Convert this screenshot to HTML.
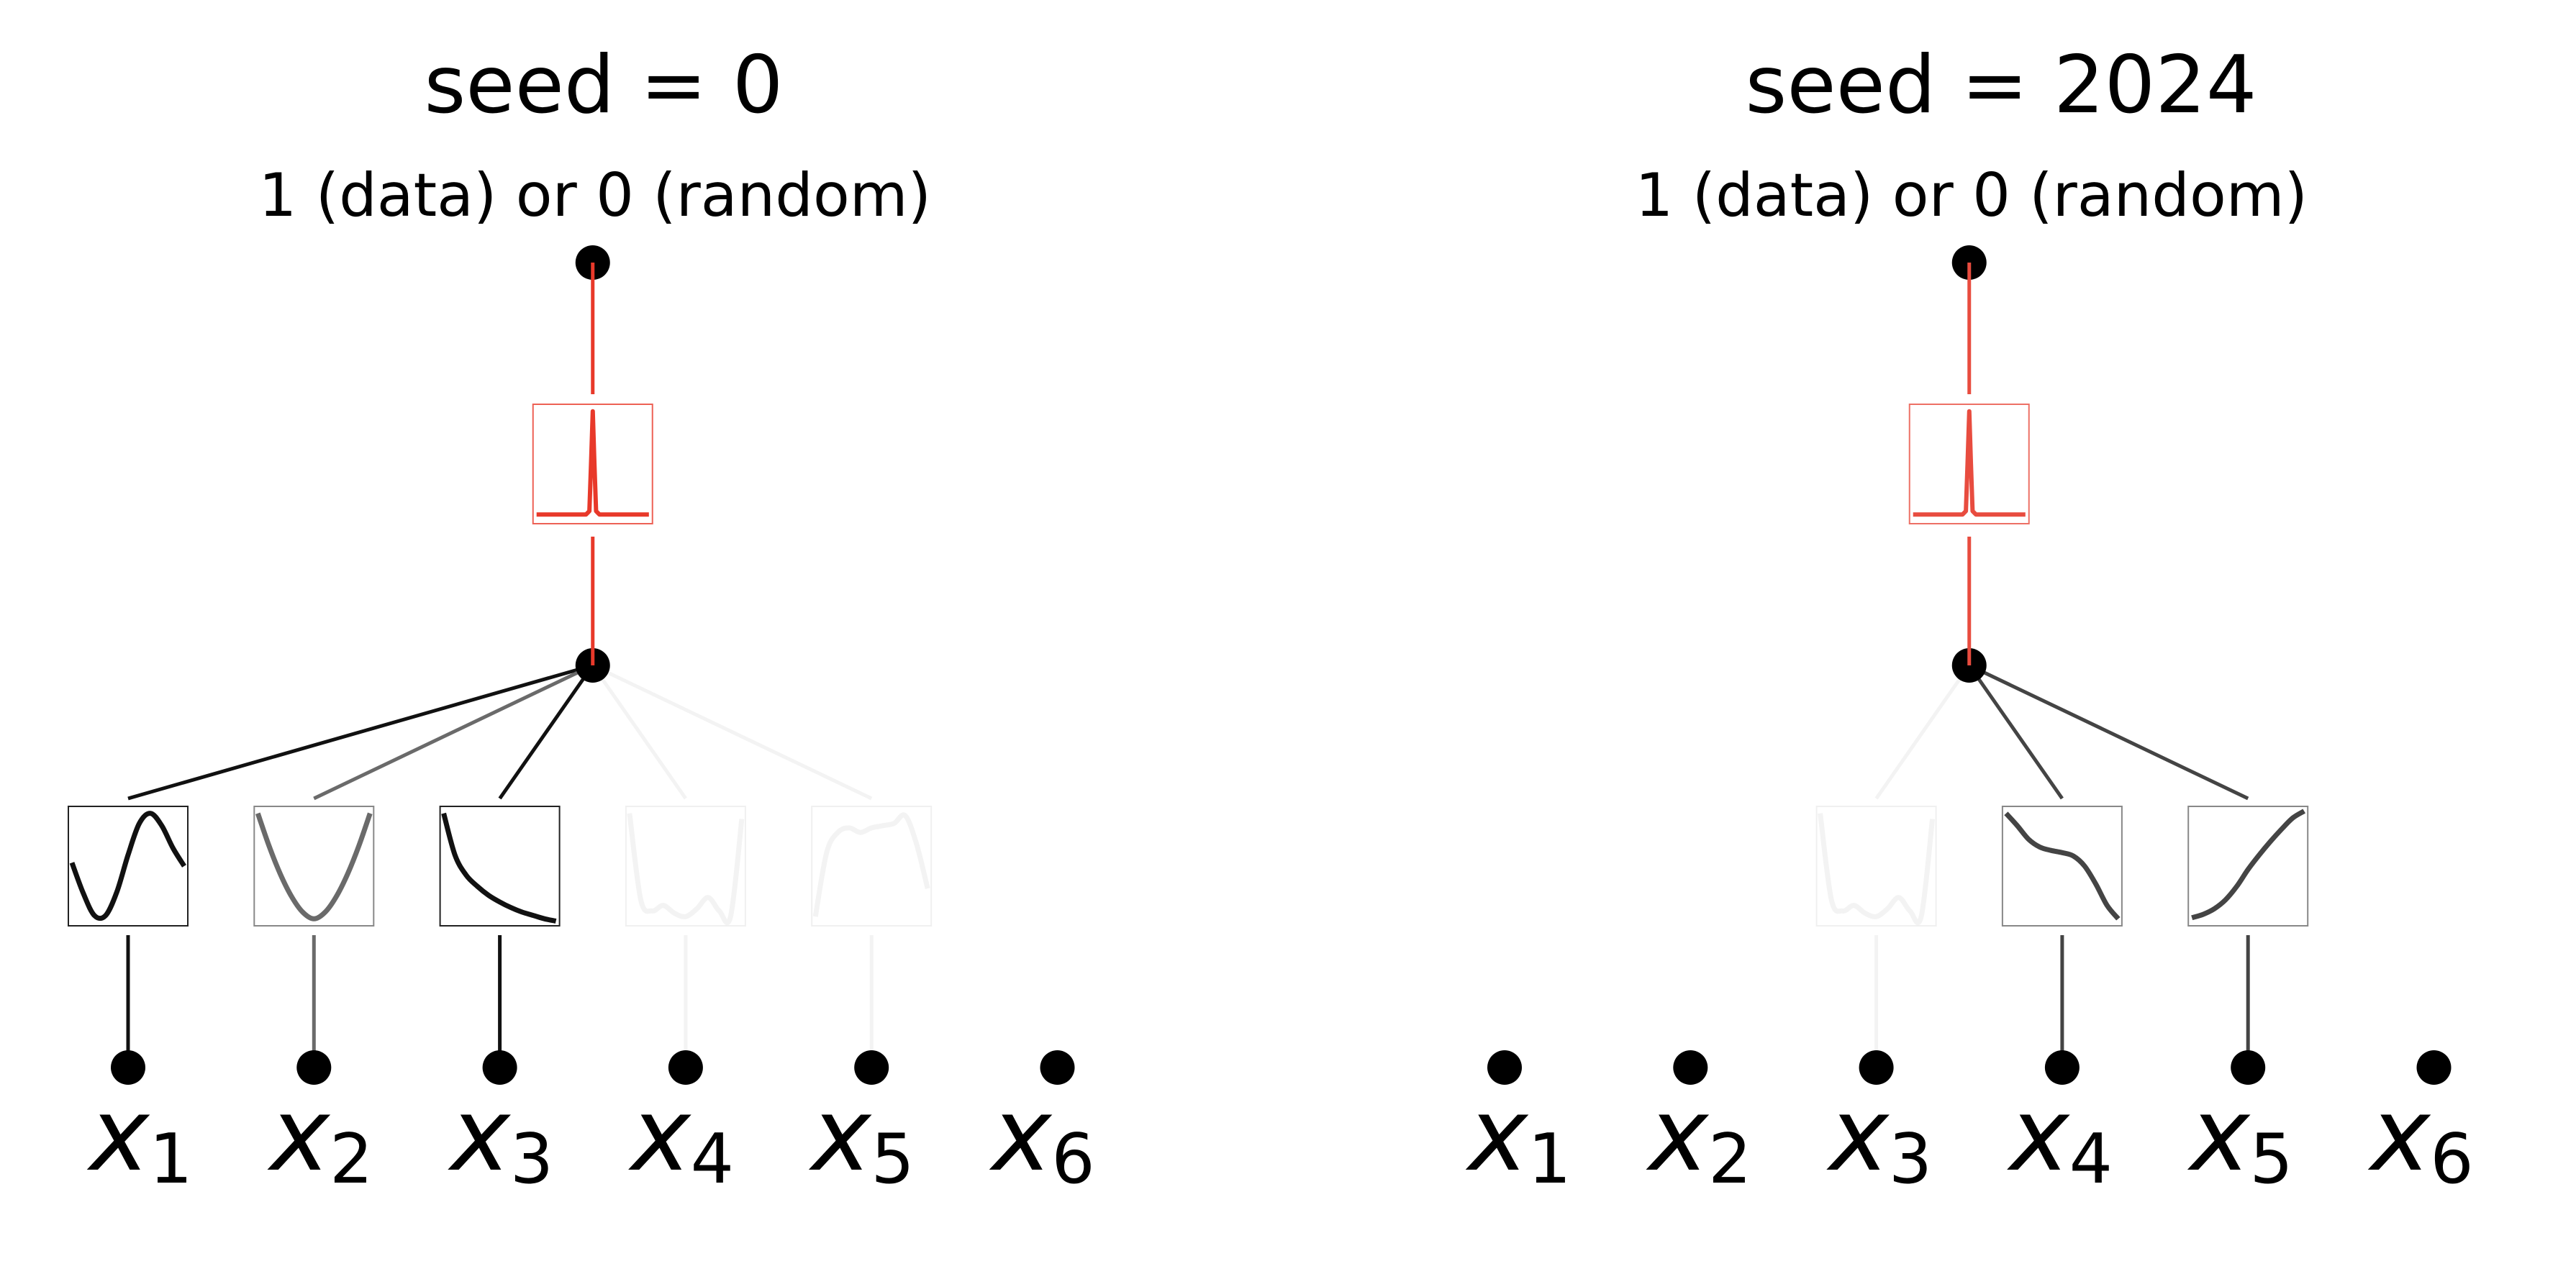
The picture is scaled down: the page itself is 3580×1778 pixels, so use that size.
<!DOCTYPE html>
<html><head><meta charset="utf-8"><style>
html,body{margin:0;padding:0;background:#fff;}
svg{display:block;}
text{font-family:"DejaVu Sans","Liberation Sans",sans-serif;fill:#000;}
</style></head><body>
<svg id="fig" width="3580" height="1778" viewBox="0 0 3580 1778" xmlns="http://www.w3.org/2000/svg"></svg>
<script>
// ---- data ----
const seeds = ["seed = 0", "seed = 2024"];
const inputLabels = ["1","2","3","4","5","6"];
const leftEdgeColors  = ["#111111","#6a6a6a","#111111","#f3f3f3","#f3f3f3", null];
const rightEdgeColors = [null, null, "#f3f3f3","#444444","#444444", null];
const leftShapes  = ["sine","parabola","decay","wavy","plateau", null];
const rightShapes = [null, null, "wavy","cubic","rise", null];
const curveX = [0,0.1,0.2,0.3,0.4,0.5,0.6,0.7,0.8,0.9,1];
const sineY     = [0.53,0.26,0.06,0.06,0.27,0.6,0.88,0.97,0.86,0.66,0.5];
const parabolaY = [0.97,0.68,0.43,0.23,0.09,0.03,0.09,0.23,0.43,0.68,0.97];
const decayY    = [0.97,0.6,0.42,0.32,0.24,0.18,0.13,0.09,0.06,0.03,0.01];
const wavyY     = [0.97,0.2,0.1,0.15,0.08,0.05,0.12,0.22,0.1,0.05,0.92];
const plateauY  = [0.05,0.62,0.8,0.84,0.8,0.84,0.86,0.88,0.95,0.7,0.3];
const cubicY    = [0.97,0.86,0.74,0.67,0.64,0.62,0.59,0.5,0.34,0.15,0.03];
const riseY     = [0.04,0.07,0.12,0.2,0.32,0.47,0.6,0.72,0.83,0.93,0.99];
const spikeX = [0,0.44,0.47,0.485,0.5,0.515,0.53,0.56,1];
const spikeY = [0.05,0.05,0.08,0.5,0.97,0.5,0.08,0.05,0.05];
const redColors = ["#e8392a","#e84c3f"];

// ---- layout ----
const NS="http://www.w3.org/2000/svg";
const svg=document.getElementById('fig');
const panelX0=[178,2091], step=258.3, boxS=166;
const titleCX=[839,2781], labelX0=[196,2112], labelStep=250.8;
const yTopNode=365, yRedTop=562, yMid=925, yBoxTop=1121, yBot=1484;
const shapeData={sine:sineY,parabola:parabolaY,decay:decayY,wavy:wavyY,plateau:plateauY,cubic:cubicY,rise:riseY};
function el(tag,attrs,parent){const e=document.createElementNS(NS,tag);for(const k in attrs)e.setAttribute(k,attrs[k]);(parent||svg).appendChild(e);return e;}
function curvePath(x0,y0,xs,ys,smooth){
  const pad=0.03*boxS, w=boxS-2*pad;
  const P=xs.map((x,i)=>[x0+pad+x*w, y0+boxS-pad-ys[i]*w]);
  if(!smooth) return P.map((p,i)=>(i?'L':'M')+p[0].toFixed(1)+','+p[1].toFixed(1)).join(' ');
  let d='M'+P[0][0].toFixed(1)+','+P[0][1].toFixed(1);
  for(let i=0;i<P.length-1;i++){
    const p0=P[Math.max(0,i-1)],p1=P[i],p2=P[i+1],p3=P[Math.min(P.length-1,i+2)];
    const c1=[p1[0]+(p2[0]-p0[0])/6,p1[1]+(p2[1]-p0[1])/6];
    const c2=[p2[0]-(p3[0]-p1[0])/6,p2[1]-(p3[1]-p1[1])/6];
    d+=' C'+c1.map(v=>v.toFixed(1)).join(',')+' '+c2.map(v=>v.toFixed(1)).join(',')+' '+p2.map(v=>v.toFixed(1)).join(',');
  }
  return d;
}
[0,1].forEach(p=>{
  const g=el('g',{});
  
  
  const nx=i=>panelX0[p]+i*step;
  const cx=(nx(2)+nx(3))/2;
  const colors=p?rightEdgeColors:leftEdgeColors, shapes=p?rightShapes:leftShapes, red=redColors[p];
  const t=el('text',{x:titleCX[p],y:156,'font-size':111,'text-anchor':'middle'},g); t.textContent=seeds[p];
   
  const s=el('text',{x:cx+3,y:300,'font-size':83,'text-anchor':'middle'},g); s.textContent="1 (data) or 0 (random)";
   
  el('line',{x1:cx,y1:yTopNode,x2:cx,y2:yRedTop-14,stroke:red,'stroke-width':5},g);
  el('line',{x1:cx,y1:yRedTop+boxS+18,x2:cx,y2:yMid,stroke:red,'stroke-width':5},g);
  const rb=el('rect',{x:cx-boxS/2,y:yRedTop,width:boxS,height:boxS,fill:'none',stroke:red,'stroke-width':2,opacity:0.8},g);
   
  el('path',{d:curvePath(cx-boxS/2,yRedTop,spikeX,spikeY,false),fill:'none',stroke:red,'stroke-width':6,'stroke-linejoin':'round'},g);
  for(let i=0;i<6;i++){
    const x=nx(i), c=colors[i];
    if(c){
      const e=el('line',{x1:cx,y1:yMid,x2:x,y2:yBoxTop-11,stroke:c,'stroke-width':5},g);
       
      el('line',{x1:x,y1:yBoxTop+boxS+13,x2:x,y2:yBot,stroke:c,'stroke-width':5},g);
      const b=el('rect',{x:x-boxS/2,y:yBoxTop,width:boxS,height:boxS,fill:'none',stroke:c==='#f3f3f3'?'#f0f0f0':(c==='#111111'?'#222':'#888'),'stroke-width':2},g);
       
      el('path',{d:curvePath(x-boxS/2,yBoxTop,curveX,shapeData[shapes[i]],true),fill:'none',stroke:c,'stroke-width':7,'stroke-linejoin':'round'},g);
    }
  }
  const tn=el('circle',{cx:cx,cy:yTopNode,r:24,fill:'#000'},g);
   
  el('line',{x1:cx,y1:yTopNode,x2:cx,y2:yTopNode+24,stroke:red,'stroke-width':5},g);
  const mn=el('circle',{cx:cx,cy:yMid,r:24,fill:'#000'},g);
   
  el('line',{x1:cx,y1:yMid-24,x2:cx,y2:yMid,stroke:red,'stroke-width':5},g);
  for(let i=0;i<6;i++){
    const x=nx(i);
    const n=el('circle',{cx:x,cy:yBot,r:24,fill:'#000'},g);
     
    const lt=el('text',{x:labelX0[p]+i*labelStep,y:1626,'text-anchor':'middle'},g);
     
    const a=el('tspan',{'font-size':140,'font-style':'oblique'},lt); a.textContent='x';
    const b=el('tspan',{'font-size':95,dy:18},lt); b.textContent=inputLabels[i];
  }
});
</script>
</body></html>
